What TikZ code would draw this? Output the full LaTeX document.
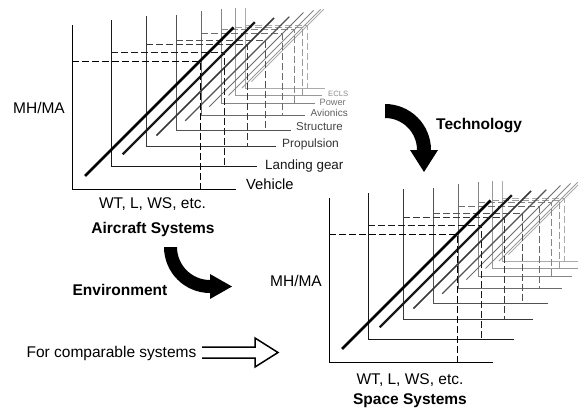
\documentclass[tikz,border=0pt]{standalone}
\usepackage{fontspec}
\setmainfont{Liberation Sans}
\usepackage{tikz}
\def\fsz#1{\fontsize{#1}{#1}\selectfont}
\def\chartframe[#1](#2,#3)(#4:#5){%
	\draw[line width=0.9pt, color=#1] (#2,#3-#4) -- (#2,#3) -- (#2+#4,#3);
	\draw[line width=0.8pt, color=#1, dash pattern=on 7pt off 3pt] (#2,#3-0.78*#4) -- (#2+0.78*#4,#3-0.78*#4) -- (#2+0.78*#4,#3);
	\draw[line width=#5, color=#1] (#2+0.08*#4,#3-0.08*#4) -- (#2+0.985*#4,#3-0.985*#4);}

\begin{document}
\begin{tikzpicture}[x=1pt, y=-1pt,
		lbl/.style={inner sep=0pt, anchor=base, font=\fsz{15.5}},
		ttl/.style={inner sep=0pt, anchor=base, font=\fsz{15.5}\bfseries},
		part/.style={inner sep=0pt, anchor=base west}]
			%%%%% START %%%%%
			
			\clip (0, 0) rectangle (578, 408);
			
			% aircraft systems
			\chartframe[black!33](245, 88)(80:0.8pt)
			\chartframe[black!40](235, 95)(87:0.8pt)
			\chartframe[black!48](221, 103)(94:0.9pt)
			\chartframe[black!58](201, 115)(104:1pt)
			\chartframe[black!68](176, 130)(115:1.2pt)
			\chartframe[black!78](146, 146)(130:1.6pt)
			\chartframe[black!90](111, 166)(146:2.2pt)
			\chartframe[black](72, 189)(164:2.8pt)
			
			\node[part, color=black, font=\fsz{14.7}] (vehicle) at (246, 189.5) {Vehicle};
			\node[part, color=black!90, font=\fsz{13.4}] (gear) at (265, 169) {Landing gear};
			\node[part, color=black!80, font=\fsz{12}] (propulsion) at (282, 147) {Propulsion};
			\node[part, color=black!72, font=\fsz{11.5}] (structure) at (296, 130) {Structure};
			\node[part, color=black!64, font=\fsz{10}] (avionics) at (310.5, 116.3) {Avionics};
			\node[part, color=black!55, font=\fsz{9.2}] (power) at (319.5, 105) {Power};
			\node[part, color=black!45, font=\fsz{7.7}] (ecls) at (328, 96) {ECLS};
			
			\node[lbl] (mhA) at (39, 113.5) {MH/MA};
			\node[lbl] (wtA) at (152.5, 208.5) {WT, L, WS, etc.};
			\node[ttl] (aircraft) at (153, 233.5) {Aircraft Systems};
			
			% space systems
			\chartframe[black!33](502, 261)(80:0.8pt)
			\chartframe[black!40](492, 268)(87:0.8pt)
			\chartframe[black!48](478, 276)(94:0.9pt)
			\chartframe[black!58](458, 288)(104:1pt)
			\chartframe[black!68](433, 303)(115:1.2pt)
			\chartframe[black!78](403, 319)(130:1.6pt)
			\chartframe[black!90](368, 339)(146:2.2pt)
			\chartframe[black](329, 362)(164:2.8pt)
			
			\node[lbl] (mhS) at (296, 286.5) {MH/MA};
			\node[lbl] (wtS) at (410, 384) {WT, L, WS, etc.};
			\node[ttl] (space) at (410, 404) {Space Systems};
			
			% technology
			\fill[black] (385, 104) arc[start angle=270, end angle=360, radius=46] -- (438, 150) -- (424, 172) -- (410, 150) -- (417, 150) arc[start angle=0, end angle=-90, radius=32] -- cycle;
			\node[ttl, anchor=base west] (tech) at (436, 129.5) {Technology};
			
			% environment
			\fill[black] (177, 247) -- (164, 247) arc[start angle=180, end angle=90, radius=46] -- (210, 299) -- (232, 286.5) -- (210, 274) -- (210, 280) arc[start angle=90, end angle=180, radius=33] -- cycle;
			\node[ttl] (env) at (120, 295.5) {Environment};
			
			% comparable
			\node[lbl] (cmp) at (111.5, 357.5) {For comparable systems};
			\draw[line width=1.5pt, line join=miter] (202, 347) -- (255, 347) -- (255, 338) -- (278, 352.5) -- (255, 367) -- (255, 358) -- (202, 358);
			
			%%%%% END %%%%%
\end{tikzpicture}
\end{document}
